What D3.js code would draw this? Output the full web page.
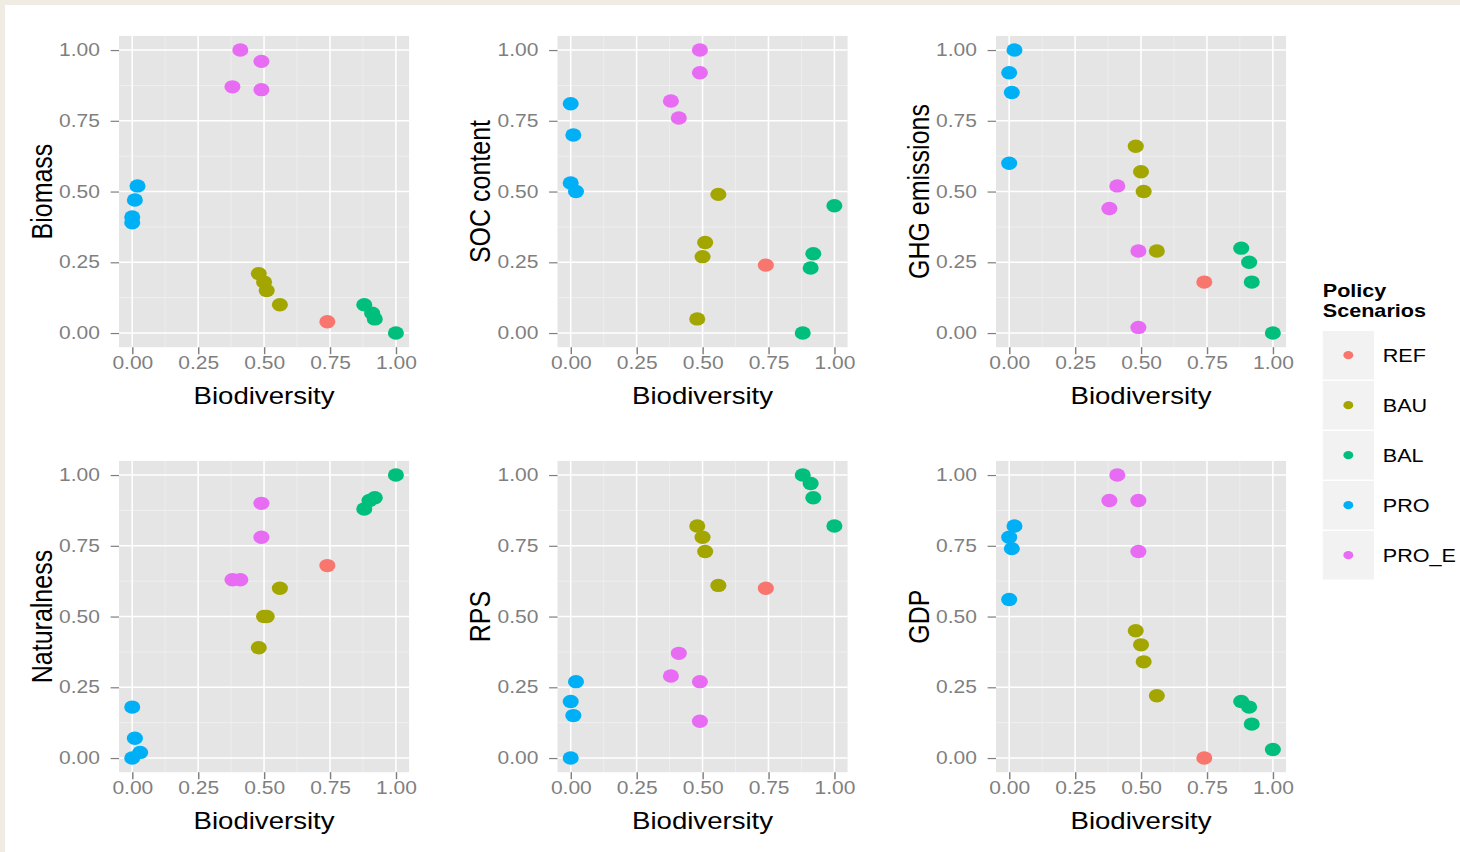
<!DOCTYPE html>
<html>
<head>
<meta charset="utf-8">
<script src="https://cdn.jsdelivr.net/npm/d3@7"></script>
<style>
  body { margin: 0; background: #fff; }
  text { font-family: "Liberation Sans", Arial, Helvetica, sans-serif; }
</style>
</head>
<body>
<script>
// scenarios and their ggplot hue colours
var scenarios = ["REF", "BAU", "BAL", "PRO", "PRO_E"];
var scenarioColors = ["#F8766D", "#A3A500", "#00BF7D", "#00B0F6", "#E76BF3"];

var xTicks = [0, 0.25, 0.5, 0.75, 1];
var yTicks = [0, 0.25, 0.5, 0.75, 1];
var minorTicks = [0.125, 0.375, 0.625, 0.875];

var xTitle = "Biodiversity";
var panelTitles = ["Biomass", "SOC content", "GHG emissions", "Naturalness", "RPS", "GDP"];

// [scenario, biodiversity, value]
var biomass = [
    ["PRO_E", 0.41, 1.00], ["PRO_E", 0.49, 0.96], ["PRO_E", 0.38, 0.87], ["PRO_E", 0.49, 0.86],
    ["PRO", 0.02, 0.52], ["PRO", 0.01, 0.47], ["PRO", 0.00, 0.41], ["PRO", 0.00, 0.39],
    ["BAU", 0.48, 0.21], ["BAU", 0.50, 0.18], ["BAU", 0.51, 0.15], ["BAU", 0.56, 0.10],
    ["REF", 0.74, 0.04],
    ["BAL", 0.88, 0.10], ["BAL", 0.91, 0.07], ["BAL", 0.92, 0.05], ["BAL", 1.00, 0.00]
];
var socContent = [
    ["PRO_E", 0.49, 1.00], ["PRO_E", 0.49, 0.92], ["PRO_E", 0.38, 0.82], ["PRO_E", 0.41, 0.76],
    ["PRO", 0.00, 0.81], ["PRO", 0.01, 0.70], ["PRO", 0.00, 0.53], ["PRO", 0.02, 0.50],
    ["BAU", 0.56, 0.49], ["BAU", 0.51, 0.32], ["BAU", 0.50, 0.27], ["BAU", 0.48, 0.05],
    ["REF", 0.74, 0.24],
    ["BAL", 1.00, 0.45], ["BAL", 0.92, 0.28], ["BAL", 0.91, 0.23], ["BAL", 0.88, 0.00]
];
var ghgEmissions = [
    ["PRO", 0.02, 1.00], ["PRO", 0.00, 0.92], ["PRO", 0.01, 0.85], ["PRO", 0.00, 0.60],
    ["BAU", 0.48, 0.66], ["BAU", 0.50, 0.57], ["BAU", 0.51, 0.50], ["BAU", 0.56, 0.29],
    ["PRO_E", 0.41, 0.52], ["PRO_E", 0.38, 0.44], ["PRO_E", 0.49, 0.29], ["PRO_E", 0.49, 0.02],
    ["REF", 0.74, 0.18],
    ["BAL", 0.88, 0.30], ["BAL", 0.91, 0.25], ["BAL", 0.92, 0.18], ["BAL", 1.00, 0.00]
];
var naturalness = [
    ["BAL", 1.00, 1.00], ["BAL", 0.92, 0.92], ["BAL", 0.90, 0.91], ["BAL", 0.88, 0.88],
    ["PRO_E", 0.49, 0.90], ["PRO_E", 0.49, 0.78], ["PRO_E", 0.38, 0.63], ["PRO_E", 0.41, 0.63],
    ["REF", 0.74, 0.68],
    ["BAU", 0.56, 0.60], ["BAU", 0.50, 0.50], ["BAU", 0.51, 0.50], ["BAU", 0.48, 0.39],
    ["PRO", 0.00, 0.18], ["PRO", 0.01, 0.07], ["PRO", 0.03, 0.02], ["PRO", 0.00, 0.00]
];
var rps = [
    ["BAL", 0.88, 1.00], ["BAL", 0.91, 0.97], ["BAL", 0.92, 0.92], ["BAL", 1.00, 0.82],
    ["BAU", 0.48, 0.82], ["BAU", 0.50, 0.78], ["BAU", 0.51, 0.73], ["BAU", 0.56, 0.61],
    ["REF", 0.74, 0.60],
    ["PRO_E", 0.41, 0.37], ["PRO_E", 0.38, 0.29], ["PRO_E", 0.49, 0.27], ["PRO_E", 0.49, 0.13],
    ["PRO", 0.02, 0.27], ["PRO", 0.00, 0.20], ["PRO", 0.01, 0.15], ["PRO", 0.00, 0.00]
];
var gdp = [
    ["PRO_E", 0.41, 1.00], ["PRO_E", 0.38, 0.91], ["PRO_E", 0.49, 0.91], ["PRO_E", 0.49, 0.73],
    ["PRO", 0.02, 0.82], ["PRO", 0.00, 0.78], ["PRO", 0.01, 0.74], ["PRO", 0.00, 0.56],
    ["BAU", 0.48, 0.45], ["BAU", 0.50, 0.40], ["BAU", 0.51, 0.34], ["BAU", 0.56, 0.22],
    ["BAL", 0.88, 0.20], ["BAL", 0.91, 0.18], ["BAL", 0.92, 0.12], ["BAL", 1.00, 0.03],
    ["REF", 0.74, 0.00]
];

var panelData = [biomass, socContent, ghgEmissions, naturalness, rps, gdp];

// the source picture is stretched horizontally, so draw in a squeezed frame
var SX = 1.2;
var panelW = 241.7, panelH = 311.3;
var colX = [99.2, 464.6, 830];
var rowY = [35.9, 460.9];

var color = d3.scaleOrdinal().domain(scenarios).range(scenarioColors);

var svg = d3.select("body").append("svg")
    .attr("width", 1460)
    .attr("height", 852);

svg.append("rect").attr("width", 1460).attr("height", 852).attr("fill", "#f1ece3");
svg.append("rect").attr("x", 5).attr("y", 5).attr("width", 1455).attr("height", 847).attr("fill", "#fff");

var g = svg.append("g").attr("transform", "scale(" + SX + ",1)");

panelData.forEach(function (data, i) {
    var px = colX[i % 3], py = rowY[Math.floor(i / 3)];

    var x = d3.scaleLinear().domain([-0.05, 1.05]).range([0, panelW]);
    var y = d3.scaleLinear().domain([-0.05, 1.05]).range([panelH, 0]);

    var pg = g.append("g").attr("transform", "translate(" + px + "," + py + ")");

    pg.append("rect")
        .attr("width", panelW)
        .attr("height", panelH)
        .attr("fill", "#e5e5e5");

    // minor grid
    pg.selectAll(".minor-x").data(minorTicks).join("line")
        .attr("x1", x).attr("x2", x).attr("y1", 0).attr("y2", panelH)
        .attr("stroke", "#f2f2f2").attr("stroke-width", 0.6);
    pg.selectAll(".minor-y").data(minorTicks).join("line")
        .attr("y1", y).attr("y2", y).attr("x1", 0).attr("x2", panelW)
        .attr("stroke", "#f2f2f2").attr("stroke-width", 0.7);

    // major grid
    pg.selectAll(".major-x").data(xTicks).join("line")
        .attr("x1", x).attr("x2", x).attr("y1", 0).attr("y2", panelH)
        .attr("stroke", "#fff").attr("stroke-width", 1.3);
    pg.selectAll(".major-y").data(yTicks).join("line")
        .attr("y1", y).attr("y2", y).attr("x1", 0).attr("x2", panelW)
        .attr("stroke", "#fff").attr("stroke-width", 1.5);

    pg.selectAll("circle").data(data).join("circle")
        .attr("cx", function (d) { return x(d[1]); })
        .attr("cy", function (d) { return y(d[2]); })
        .attr("r", 6.7)
        .attr("fill", function (d) { return color(d[0]); });

    // x axis
    var xa = pg.append("g")
        .attr("transform", "translate(0," + panelH + ")")
        .call(d3.axisBottom(x).tickValues(xTicks).tickFormat(d3.format(".2f")).tickSize(7).tickPadding(2.6));
    // y axis
    var ya = pg.append("g")
        .call(d3.axisLeft(y).tickValues(yTicks).tickFormat(d3.format(".2f")).tickSize(7).tickPadding(9));

    [xa, ya].forEach(function (a) {
        a.select(".domain").remove();
        a.selectAll(".tick line").attr("stroke", "#7f7f7f").attr("stroke-width", 1.2);
        a.selectAll(".tick text")
            .attr("fill", "#7f7f7f")
            .style("font-size", "17.5px")
            .style("font-family", "'Liberation Sans', Arial, sans-serif");
    });

    pg.append("text")
        .attr("x", panelW / 2)
        .attr("y", panelH + 57)
        .attr("text-anchor", "middle")
        .style("font-size", "23px")
        .attr("fill", "#000")
        .text(xTitle);

    pg.append("text")
        .attr("transform", "translate(-56," + (panelH / 2) + ") rotate(-90)")
        .attr("text-anchor", "middle")
        .style("font-size", "25px")
        .attr("fill", "#000")
        .text(panelTitles[i]);
});

// legend
var lg = g.append("g").attr("transform", "translate(1102.3,0)");
lg.append("text").attr("x", 0).attr("y", 297.5)
    .style("font-size", "18px").style("font-weight", "bold").text("Policy");
lg.append("text").attr("x", 0).attr("y", 317)
    .style("font-size", "18px").style("font-weight", "bold").text("Scenarios");

var keys = lg.selectAll(".key").data(scenarios).join("g")
    .attr("transform", function (d, i) { return "translate(0," + (331 + i * 50) + ")"; });
keys.append("rect")
    .attr("width", 42.6).attr("height", 48.5)
    .attr("fill", "#f2f2f2");
keys.append("circle")
    .attr("cx", 21.3).attr("cy", 24.2).attr("r", 4.1)
    .attr("fill", function (d) { return color(d); });
keys.append("text")
    .attr("x", 50).attr("y", 30.7)
    .style("font-size", "18px")
    .text(function (d) { return d; });
</script>
</body>
</html>
